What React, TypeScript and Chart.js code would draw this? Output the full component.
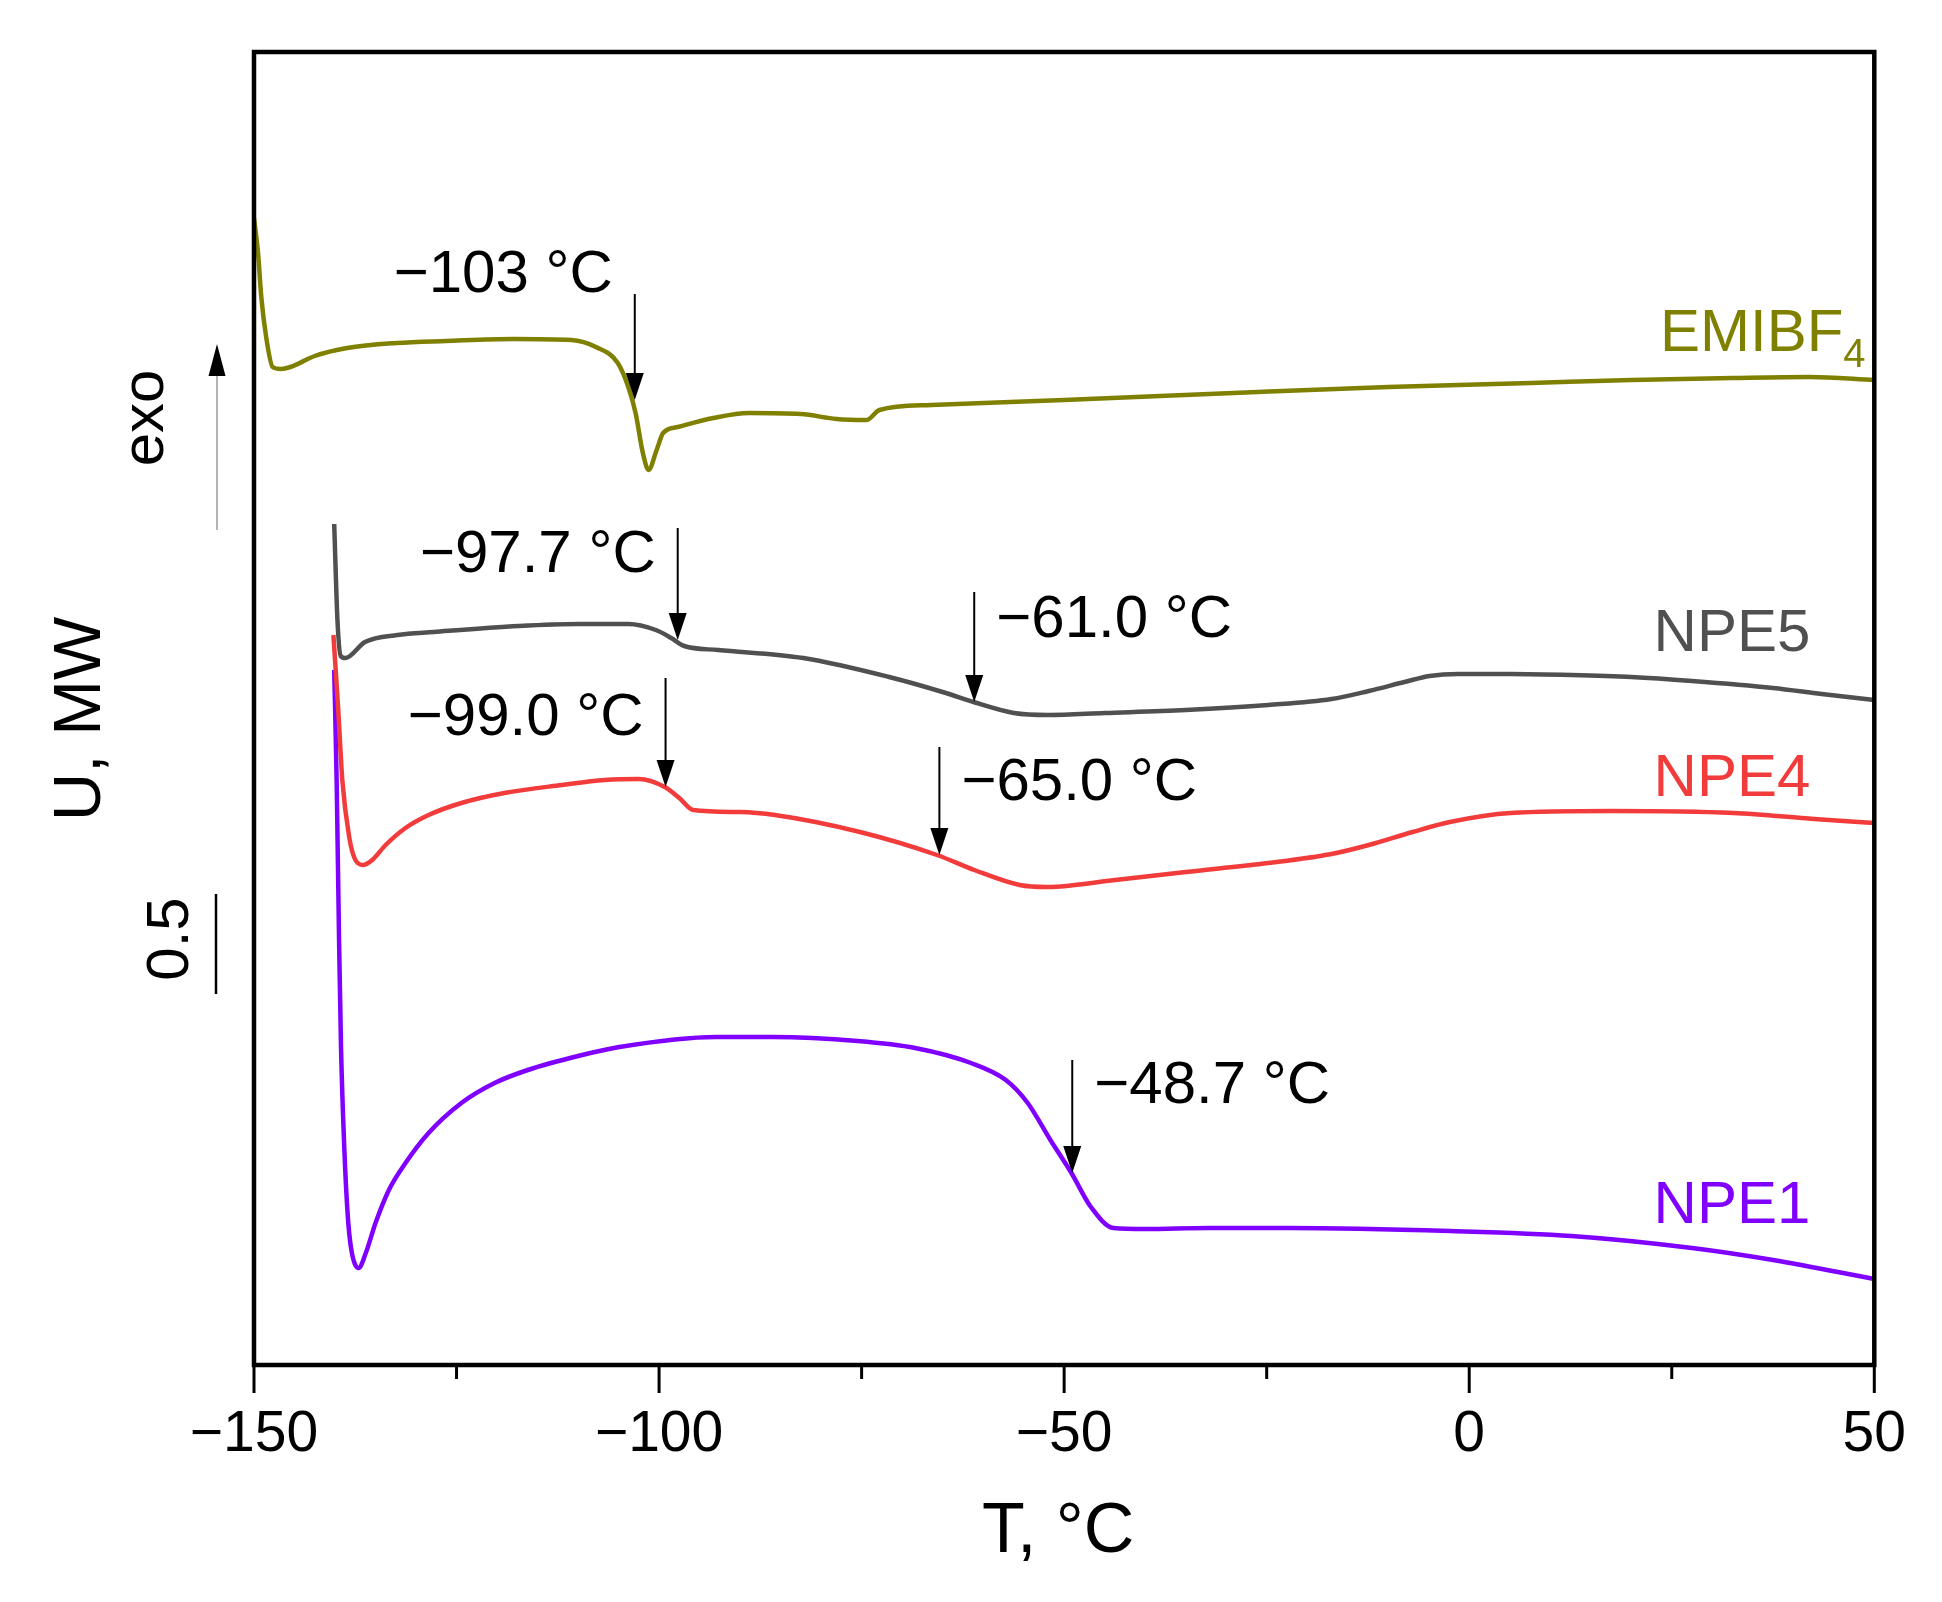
import React, { useEffect, useRef } from 'react';
import { Chart, registerables } from 'chart.js';

Chart.register(...registerables);

// DSC traces, T in °C, U in mW (vertically offset curves)
const emibf4T = [-150, -149.5, -149.1, -148.5, -147.7, -146.7, -145.5, -142.5, -138.5, -132.4, -126.3, -118, -110.8, -107.8, -105.1, -103.8, -102.9, -102.0, -101.3, -100.3, -99.5, -97.7, -93.3, -88.9, -82.5, -78.1, -74.4, -72.8, -66.4, -50, -29.1, -10, 7.6, 20, 32.5, 42, 50];
const emibf4U = [5.76, 5.585, 5.365, 5.165, 5.015, 5.005, 5.015, 5.07, 5.11, 5.135, 5.145, 5.155, 5.15, 5.115, 5.035, 4.915, 4.785, 4.585, 4.5, 4.6, 4.685, 4.715, 4.76, 4.785, 4.78, 4.755, 4.75, 4.8, 4.825, 4.85, 4.885, 4.915, 4.935, 4.95, 4.96, 4.965, 4.95];

const npe5T = [-140.1, -139.7, -139.3, -138.7, -136.3, -132.3, -127.8, -117.3, -110, -103.8, -100.4, -98.5, -96.9, -92.7, -82.2, -71.6, -64.6, -61.2, -56.2, -52, -45, -35, -24.8, -17, -12.4, -8, -4.9, -1.4, 5, 12.6, 20, 27.5, 37.5, 43.5, 50];
const npe5U = [4.23, 3.75, 3.57, 3.56, 3.64, 3.675, 3.69, 3.72, 3.73, 3.73, 3.7, 3.66, 3.62, 3.6, 3.56, 3.465, 3.385, 3.34, 3.285, 3.275, 3.285, 3.3, 3.325, 3.355, 3.395, 3.44, 3.47, 3.48, 3.48, 3.475, 3.465, 3.445, 3.41, 3.38, 3.35];

const npe4T = [-140.2, -139.6, -139.1, -138.25, -137.6, -136.6, -135.4, -133.75, -131.3, -128.45, -124.4, -119.1, -112, -106.7, -102.5, -99.3, -97.5, -95.8, -90, -85.7, -75.2, -65.7, -61.1, -55.5, -52.1, -43.7, -35, -24.8, -17, -12.4, -7, -2.4, 5.1, 17.6, 32.6, 42.6, 50];
const npe4U = [3.675, 3.3, 2.95, 2.665, 2.56, 2.525, 2.55, 2.625, 2.71, 2.775, 2.835, 2.885, 2.925, 2.95, 2.955, 2.915, 2.86, 2.8, 2.79, 2.775, 2.69, 2.575, 2.5, 2.425, 2.415, 2.45, 2.49, 2.535, 2.58, 2.625, 2.69, 2.74, 2.785, 2.795, 2.785, 2.755, 2.735];

const npe1T = [-140.1, -139.8, -139.5, -139.26, -138.86, -138.45, -138.04, -137.1, -136.2, -135.0, -133.35, -131.3, -128.45, -124.4, -120.3, -116.2, -110, -104.9, -93, -86, -75.5, -68.4, -61.5, -57.2, -54.5, -51.7, -49.1, -46.7, -43.9, -40, -32.2, -22.4, -2.4, 12.6, 27.5, 37.5, 50];
const npe1U = [3.5, 2.95, 2.15, 1.615, 1.115, 0.785, 0.615, 0.51, 0.585, 0.735, 0.9, 1.035, 1.185, 1.335, 1.435, 1.5, 1.57, 1.615, 1.665, 1.665, 1.645, 1.61, 1.535, 1.45, 1.335, 1.15, 0.985, 0.815, 0.71, 0.705, 0.71, 0.71, 0.695, 0.67, 0.61, 0.55, 0.455];

// glass transition markers: arrow at t, from U top to U tip
const markerText = ['\u2212103 °C', '\u221297.7 °C', '\u221261.0 °C', '\u221299.0 °C', '\u221265.0 °C', '\u221248.7 °C'];
const markerT = [-103.0, -97.7, -61.1, -99.2, -65.4, -49.0];
const markerTop = [5.38, 4.21, 3.89, 3.46, 3.115, 1.55];
const markerTip = [4.85, 3.65, 3.34, 2.915, 2.575, 0.985];
const markerBase = [5.39, 3.99, 3.665, 3.175, 2.85, 1.335];
const markerSide = ['left', 'left', 'right', 'left', 'right', 'right'];

const FONT = '"Liberation Sans", Arial, sans-serif';

const series = [
  { name: 'EMIBF', sub: '4', t: emibf4T, u: emibf4U, color: '#808000', labelU: 5.095 },
  { name: 'NPE5', sub: '', t: npe5T, u: npe5U, color: '#505050', labelU: 3.595 },
  { name: 'NPE4', sub: '', t: npe4T, u: npe4U, color: '#f23c3c', labelU: 2.87 },
  { name: 'NPE1', sub: '', t: npe1T, u: npe1U, color: '#8000ff', labelU: 0.735 },
];

const fmt = (v: number) => (v < 0 ? '\u2212' + Math.abs(v) : String(v));

function arrowDown(ctx: CanvasRenderingContext2D, x: number, y0: number, y1: number) {
  const head = 27;
  ctx.beginPath();
  ctx.moveTo(x, y0);
  ctx.lineTo(x, y1 - head + 2);
  ctx.stroke();
  ctx.beginPath();
  ctx.moveTo(x - 9, y1 - head);
  ctx.lineTo(x + 9, y1 - head);
  ctx.lineTo(x, y1);
  ctx.closePath();
  ctx.fill();
}

const decorPlugin = {
  id: 'decor',
  afterDraw(chart: any) {
    const { ctx, chartArea: a, scales } = chart;
    const xs = scales.x;
    const ys = scales.y;
    ctx.save();

    // frame
    ctx.strokeStyle = '#000';
    ctx.lineWidth = 4.5;
    ctx.strokeRect(a.left, a.top, a.right - a.left, a.bottom - a.top);

    // tick marks (major every 50, minor every 25)
    ctx.lineWidth = 3;
    xs.ticks.forEach((tk: any) => {
      const px = xs.getPixelForValue(tk.value);
      const len = tk.value % 50 === 0 ? 28 : 14;
      ctx.beginPath();
      ctx.moveTo(px, a.bottom);
      ctx.lineTo(px, a.bottom + len);
      ctx.stroke();
    });

    // x title
    ctx.fillStyle = '#000';
    ctx.font = `70px ${FONT}`;
    ctx.textAlign = 'center';
    ctx.textBaseline = 'alphabetic';
    ctx.fillText('T, °C', (a.left + a.right) / 2 - 6, a.bottom + 187);

    // rotated y texts
    const rot = (text: string, x: number, yVal: number, size: number) => {
      ctx.save();
      ctx.translate(x, ys.getPixelForValue(yVal));
      ctx.rotate(-Math.PI / 2);
      ctx.font = `${size}px ${FONT}`;
      ctx.textAlign = 'center';
      ctx.textBaseline = 'alphabetic';
      ctx.fillText(text, 0, 0);
      ctx.restore();
    };
    rot('U, MW', a.left - 154, 3.255, 67);
    rot('exo', a.left - 91, 4.76, 60);
    rot('0.5', a.left - 66, 2.155, 60);

    // exo arrow
    const ax = a.left - 37;
    const aTop = ys.getPixelForValue(5.13);
    const aBot = ys.getPixelForValue(4.2);
    ctx.strokeStyle = '#b4b4b4';
    ctx.lineWidth = 2;
    ctx.beginPath();
    ctx.moveTo(ax, aBot);
    ctx.lineTo(ax, aTop + 30);
    ctx.stroke();
    ctx.fillStyle = '#000';
    ctx.beginPath();
    ctx.moveTo(ax - 8.5, aTop + 32);
    ctx.lineTo(ax + 8.5, aTop + 32);
    ctx.lineTo(ax, aTop);
    ctx.closePath();
    ctx.fill();

    // 0.5 mW scale bar
    ctx.strokeStyle = '#000';
    ctx.lineWidth = 2.5;
    ctx.beginPath();
    ctx.moveTo(a.left - 38, ys.getPixelForValue(2.38));
    ctx.lineTo(a.left - 38, ys.getPixelForValue(1.88));
    ctx.stroke();

    // transition markers
    ctx.lineWidth = 2;
    ctx.font = `60px ${FONT}`;
    markerText.forEach((txt, i) => {
      const x = xs.getPixelForValue(markerT[i]);
      arrowDown(ctx, x, ys.getPixelForValue(markerTop[i]), ys.getPixelForValue(markerTip[i]));
      ctx.textAlign = markerSide[i] === 'left' ? 'right' : 'left';
      const tx = markerSide[i] === 'left' ? x - 22 : x + 22;
      ctx.fillText(txt, tx, ys.getPixelForValue(markerBase[i]));
    });

    // series labels
    series.forEach((s) => {
      const y = ys.getPixelForValue(s.labelU);
      ctx.fillStyle = s.color;
      ctx.textAlign = 'right';
      if (s.sub) {
        ctx.font = `60px ${FONT}`;
        ctx.fillText(s.name, a.right - 31, y);
        ctx.font = `40px ${FONT}`;
        ctx.textAlign = 'left';
        ctx.fillText(s.sub, a.right - 31, y + 16);
      } else {
        ctx.font = `60px ${FONT}`;
        ctx.fillText(s.name, a.right - 64, y);
      }
    });

    ctx.restore();
  },
};

export default function App() {
  const canvasRef = useRef<HTMLCanvasElement>(null);
  const chartRef = useRef<Chart | null>(null);

  useEffect(() => {
    if (!canvasRef.current) return;
    if (chartRef.current) chartRef.current.destroy();

    chartRef.current = new Chart(canvasRef.current, {
      type: 'line',
      data: {
        datasets: series.map((s) => ({
          label: s.name + s.sub,
          data: s.t.map((x, i) => ({ x, y: s.u[i] })),
          borderColor: s.color,
          borderWidth: 4.5,
          pointRadius: 0,
          fill: false,
          cubicInterpolationMode: 'monotone' as const,
        })),
      },
      options: {
        responsive: true,
        maintainAspectRatio: false,
        animation: false,
        devicePixelRatio: 1,
        layout: { padding: { top: 52, right: 54, left: 0, bottom: 0 } },
        plugins: {
          legend: { display: false },
          tooltip: { enabled: false },
        },
        scales: {
          x: {
            type: 'linear',
            min: -150,
            max: 50,
            ticks: {
              stepSize: 25,
              autoSkip: false,
              maxRotation: 0,
              padding: 36,
              color: '#000',
              font: { family: FONT, size: 57 },
              callback: (v: any) => (Number(v) % 50 === 0 ? fmt(Number(v)) : ''),
            },
            grid: { display: false, drawTicks: false },
            border: { display: false },
            afterFit: (s: any) => {
              s.height = 237;
            },
          },
          y: {
            min: 0.025,
            max: 6.59,
            ticks: { display: false },
            grid: { display: false, drawTicks: false },
            border: { display: false },
            afterFit: (s: any) => {
              s.width = 254;
            },
          },
        },
      },
      plugins: [decorPlugin],
    });

    return () => {
      if (chartRef.current) {
        chartRef.current.destroy();
        chartRef.current = null;
      }
    };
  }, []);

  return (
    <div style={{ position: 'fixed', left: 0, top: 0, width: 1942, height: 1602, background: '#fff' }}>
      <canvas ref={canvasRef}></canvas>
    </div>
  );
}
